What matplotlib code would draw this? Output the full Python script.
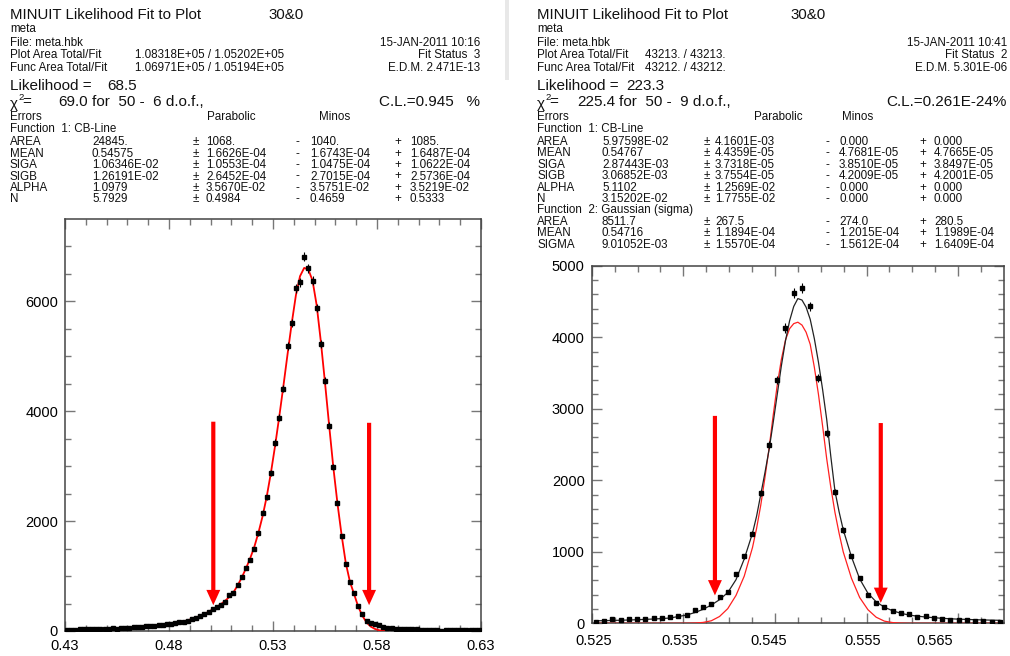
import numpy as np
import matplotlib
matplotlib.use("Agg")
import matplotlib.pyplot as plt

W, H = 1010, 656
FONT = "Liberation Sans"

# ---------------- data: left panel (100 bins, 0.43 - 0.63) ----------------
left_xmin, left_xmax, left_nbins = 0.43, 0.63, 100
left_counts = [25, 25, 20, 30, 28, 35, 30, 40, 38, 40,
               45, 50, 45, 55, 60, 60, 70, 72, 80, 85,
               90, 100, 105, 115, 120, 130, 140, 155, 170, 185,
               215, 245, 270, 305, 350, 405, 430, 475, 530, 655,
               700, 838, 989, 1140, 1295, 1494, 1780, 2155, 2435, 2870,
               3430, 3880, 4410, 5195, 5610, 6235, 6345, 6810, 6600, 6380,
               5875, 5222, 4560, 3740, 2978, 2335, 1731, 1221, 899, 686,
               455, 310, 188, 152, 135, 103, 80, 60, 55, 45,
               42, 40, 32, 30, 30, 22, 25, 20, 18, 20,
               8, 15, 18, 15, 18, 15, 18, 15, 15, 18]
left_fit = [16, 18, 19, 21, 23, 25, 27, 29, 31, 34,
            37, 40, 43, 47, 51, 55, 60, 65, 71, 77,
            84, 91, 99, 108, 118, 130, 143, 158, 175, 195,
            220, 245, 275, 310, 350, 395, 440, 490, 550, 620,
            705, 830, 975, 1140, 1320, 1530, 1790, 2090, 2450, 2880,
            3370, 3900, 4460, 5040, 5600, 6110, 6460, 6610, 6580, 6380,
            5930, 5270, 4520, 3740, 2980, 2320, 1740, 1235, 895, 670,
            440, 275, 155, 80, 38, 14, 4, 1, 0, 0,
            0, 0, 0, 0, 0, 0, 0, 0, 0, 0,
            0, 0, 0, 0, 0, 0, 0, 0, 0, 0]
left_xticks = [0.43, 0.48, 0.53, 0.58, 0.63]
left_yticks = [0, 2000, 4000, 6000]
left_arrows_x = [0.5013, 0.5762]
left_arrows_y = [(3810, 470), (3790, 470)]

# ---------------- data: right panel (50 bins, 0.525 - 0.570) ----------------
right_xmin, right_xmax, right_nbins = 0.525, 0.570, 50
right_counts = [25, 32, 56, 47, 56, 56, 65, 72, 79, 93,
                107, 116, 186, 232, 265, 363, 442, 685, 935, 1255,
                1822, 2498, 3406, 4128, 4620, 4688, 4430, 3432, 2654, 1831,
                1304, 941, 632, 396, 290, 223, 172, 138, 130, 93,
                102, 78, 60, 51, 44, 42, 34, 28, 24, 24]
# fit curves read at these positions (in units of bins from the left edge)
right_curve_pos = [0.5, 1.5, 2.5, 3.5, 4.5, 5.5, 6.5, 7.5, 8.5, 9.5,
                   10.5, 11.5, 12.5, 13.5, 14.5, 15.5, 16.5, 17.5, 18.5, 19.5,
                   20.0, 20.5, 21.0, 21.5, 22.0, 22.5, 23.0, 23.5, 24.0, 24.5,
                   25.0, 25.5, 26.0, 26.5, 27.0, 27.5, 28.0, 28.5, 29.0, 29.5,
                   30.0, 30.5, 31.5, 32.5, 33.5, 34.5, 35.5, 36.5, 37.5, 38.5,
                   39.5, 40.5, 41.5, 42.5, 43.5, 44.5, 45.5, 46.5, 47.5, 48.5, 49.5]
right_fit_total = [35, 37, 40, 43, 46, 50, 55, 60, 66, 74,
                   95, 115, 150, 195, 255, 330, 430, 610, 900, 1260,
                   1500, 1800, 2100, 2420, 2800, 3200, 3600, 3950, 4230, 4430,
                   4540, 4520, 4420, 4250, 3980, 3650, 3270, 2850, 2330, 1850,
                   1560, 1310, 930, 620, 420, 300, 225, 175, 140, 115,
                   100, 88, 78, 70, 63, 58, 54, 50, 47, 44, 42]
right_fit_gauss = [0, 0, 0, 0, 0, 0, 0, 0, 0, 0,
                   0, 1, 4, 12, 35, 95, 205, 390, 660, 1060,
                   1330, 1650, 2030, 2440, 2900, 3330, 3690, 3960, 4120, 4190,
                   4210, 4170, 4070, 3900, 3580, 3200, 2760, 2300, 1900, 1550,
                   1260, 1000, 630, 360, 190, 85, 30, 10, 3, 0,
                   0, 0, 0, 0, 0, 0, 0, 0, 0, 0, 0]
right_xticks = [0.525, 0.535, 0.545, 0.555, 0.565]
right_xticklabel_pos = [0.5252, 0.5346, 0.5443, 0.5546, 0.5624]
right_yticks = [0, 1000, 2000, 3000, 4000, 5000]
right_arrows_x = [0.53845, 0.55655]
right_arrows_y = [(2900, 390), (2800, 285)]

# ---------------- text ----------------
left_header = dict(title="MINUIT Likelihood Fit to Plot", tag="30&0", date="15-JAN-2011 10:16",
                   plot_area="1.08318E+05 / 1.05202E+05", func_area="1.06971E+05 / 1.05194E+05",
                   status="Fit Status  3", edm="E.D.M. 2.471E-13", like="68.5",
                   chi_val="69.0", chi_rest="for  50 -  6 d.o.f.,", cl="C.L.=0.945   %")
right_header = dict(title="MINUIT Likelihood Fit to Plot", tag="30&0", date="15-JAN-2011 10:41",
                    plot_area="43213. / 43213.", func_area="43212. / 43212.",
                    status="Fit Status  2", edm="E.D.M. 5.301E-06", like="223.3",
                    chi_val="225.4", chi_rest="for  50 -  9 d.o.f.,", cl="C.L.=0.261E-24%")

left_names = ["AREA", "MEAN", "SIGA", "SIGB", "ALPHA", "N"]
left_vals = ["24845.", "0.54575", "1.06346E-02", "1.26191E-02", "1.0979", "5.7929"]
left_par = ["1068.", "1.6626E-04", "1.0553E-04", "2.6452E-04", "3.5670E-02", "0.4984"]
left_minus = ["1040.", "1.6743E-04", "1.0475E-04", "2.7015E-04", "3.5751E-02", "0.4659"]
left_plus = ["1085.", "1.6487E-04", "1.0622E-04", "2.5736E-04", "3.5219E-02", "0.5333"]

right_names1 = ["AREA", "MEAN", "SIGA", "SIGB", "ALPHA", "N"]
right_vals1 = ["5.97598E-02", "0.54767", "2.87443E-03", "3.06852E-03", "5.1102", "3.15202E-02"]
right_par1 = ["4.1601E-03", "4.4359E-05", "3.7318E-05", "3.7554E-05", "1.2569E-02", "1.7755E-02"]
right_minus1 = ["0.000", "4.7681E-05", "3.8510E-05", "4.2009E-05", "0.000", "0.000"]
right_plus1 = ["0.000", "4.7665E-05", "3.8497E-05", "4.2001E-05", "0.000", "0.000"]
right_names2 = ["AREA", "MEAN", "SIGMA"]
right_vals2 = ["8511.7", "0.54716", "9.01052E-03"]
right_par2 = ["267.5", "1.1894E-04", "1.5570E-04"]
right_minus2 = ["274.0", "1.2015E-04", "1.5612E-04"]
right_plus2 = ["280.5", "1.1989E-04", "1.6409E-04"]

plt.rcParams["font.family"] = [FONT, "DejaVu Sans"]
fig = plt.figure(figsize=(W / 100, H / 100), dpi=100)
fig.patch.set_facecolor("white")

SMALL = 8.4
BIG = 11.0
TXT = "#111111"


def T(x, y, s, size=SMALL, ha="left", **kw):
    fig.text(x / W, 1 - y / H, s, fontsize=size, ha=ha, va="center", color=TXT, **kw)


def header(x0, xr, tagx, valx, hd):
    T(x0, 15, hd["title"], 10.8)
    T(tagx, 15, hd["tag"], 10.8)
    T(x0, 29.5, "meta")
    T(x0, 42.5, "File: meta.hbk")
    T(xr, 42.5, hd["date"], ha="right")
    T(x0, 55, "Plot Area Total/Fit")
    T(valx, 55, hd["plot_area"])
    T(x0, 68, "Func Area Total/Fit")
    T(valx, 68, hd["func_area"])
    T(xr, 55, hd["status"], ha="right")
    T(xr, 68, hd["edm"], ha="right")
    T(x0, 85.5, "Likelihood =", BIG)
    T(x0 + 127, 85.5, hd["like"], BIG, ha="right")
    T(x0, 104, "\u03c7", BIG)
    T(x0 + 8, 97.5, "2", 6.8)
    T(x0 + 12, 102, "=", BIG)
    T(x0 + 78, 102, hd["chi_val"], BIG, ha="right")
    T(x0 + 82, 102, hd["chi_rest"], BIG)
    T(xr, 102, hd["cl"], BIG, ha="right")
    T(x0, 116.5, "Errors")
    T(x0, 128.5, "Function  1: CB-Line")


def rows(x0, ystart, names, vals, par, minus, plus, cols):
    for k in range(len(names)):
        y = ystart + 11.4 * k
        T(x0, y, names[k])
        T(cols[0], y, vals[k])
        T(cols[1], y, "\u00b1")
        T(cols[2], y, par[k])
        T(cols[3], y, "-")
        T(cols[4], y, minus[k])
        T(cols[5], y, "+")
        T(cols[6], y, plus[k])


# left text
header(10, 480, 268, 135, left_header)
T(207, 116.5, "Parabolic")
T(319, 116.5, "Minos")
rows(10, 142.3, left_names, left_vals, left_par, left_minus, left_plus,
     [92, 193, 206, 296, 310, 394, 410])

# right text
header(537, 1007, 790, 645, right_header)
T(754, 116.5, "Parabolic")
T(842, 116.5, "Minos")
rows(537, 142.0, right_names1, right_vals1, right_par1, right_minus1, right_plus1,
     [602, 704, 715, 825, 839, 919, 934])
T(537, 210.5, "Function  2: Gaussian (sigma)")
rows(537, 221.9, right_names2, right_vals2, right_par2, right_minus2, right_plus2,
     [602, 704, 715, 825, 839, 919, 934])

# faint window-border remnant between the two screenshots
fig.add_artist(plt.Rectangle((505 / W, 1 - 80 / H), 4 / W, 80 / H, transform=fig.transFigure,
                             facecolor="#e8e8e8", edgecolor="none"))


def style_axes(ax):
    for sp in ax.spines.values():
        sp.set_color("#444444")
        sp.set_linewidth(1.1)
    ax.tick_params(which="both", direction="in", top=True, right=True,
                   colors="#777777", labelcolor="black", labelsize=10.5, width=1.0)
    ax.tick_params(which="major", length=7.5)
    ax.tick_params(which="minor", length=4.5)
    ax.set_facecolor("white")


def arrow(ax, x, ytop, ytip):
    ax.annotate("", xy=(x, ytip), xytext=(x, ytop),
                arrowprops=dict(arrowstyle="simple,head_length=1.1,head_width=1.0,tail_width=0.3",
                                mutation_scale=10, color="#ff0000", lw=0,
                                shrinkA=0, shrinkB=0), zorder=5)


# ---------------- left axes ----------------
axL = fig.add_axes([65 / W, 1 - 631 / H, 416 / W, 412 / H])
lbw = (left_xmax - left_xmin) / left_nbins
lx = left_xmin + lbw * (np.arange(left_nbins) + 0.5)
lc = np.array(left_counts, dtype=float)
axL.plot(lx, left_fit, color="#ff0000", lw=1.3, zorder=3)
axL.errorbar(lx, lc, yerr=np.sqrt(lc), fmt="s", ms=3.0, color="black",
             elinewidth=0.8, capsize=0, zorder=4)
axL.set_xlim(left_xmin, left_xmax)
axL.set_ylim(0, 7500)
axL.set_xticks(left_xticks)
axL.set_xticklabels(["%.2f" % v for v in left_xticks])
axL.set_xticks(np.arange(0.44, 0.63, 0.01), minor=True)
axL.set_yticks(left_yticks)
axL.set_yticks(np.arange(500, 7500, 500), minor=True)
style_axes(axL)
axL.tick_params(axis="x", pad=6)
axL.tick_params(axis="y", pad=5)
for x, (yt, yp) in zip(left_arrows_x, left_arrows_y):
    arrow(axL, x, yt, yp)

# ---------------- right axes ----------------
axR = fig.add_axes([591.7 / W, 1 - 623.3 / H, 412.3 / W, 357.6 / H])
rbw = (right_xmax - right_xmin) / right_nbins
rx = right_xmin + rbw * (np.arange(right_nbins) + 0.5)
rcx = right_xmin + rbw * np.array(right_curve_pos)
rc = np.array(right_counts, dtype=float)
axR.plot(rcx, right_fit_gauss, color="#ff2020", lw=0.9, zorder=3)
axR.plot(rcx, right_fit_total, color="#222222", lw=0.9, zorder=3)
axR.errorbar(rx, rc, yerr=np.sqrt(rc), fmt="s", ms=3.0, color="black",
             elinewidth=0.8, capsize=0, zorder=4)
axR.set_xlim(right_xmin, right_xmax)
axR.set_ylim(0, 5000)
axR.set_xticks(right_xticks)
axR.set_xticklabels([])
axR.set_xticks(np.arange(0.5275, 0.570, 0.0025), minor=True)
axR.set_yticks(right_yticks)
axR.set_yticks(np.arange(200, 5000, 200), minor=True)
style_axes(axR)
axR.tick_params(axis="y", pad=5)
for v, p in zip(right_xticks, right_xticklabel_pos):
    axR.text(p, -0.05, "%.3f" % v, transform=axR.get_xaxis_transform(),
             ha="center", va="center", fontsize=10.5)
for x, (yt, yp) in zip(right_arrows_x, right_arrows_y):
    arrow(axR, x, yt, yp)

fig.savefig("out.png", dpi=100)
